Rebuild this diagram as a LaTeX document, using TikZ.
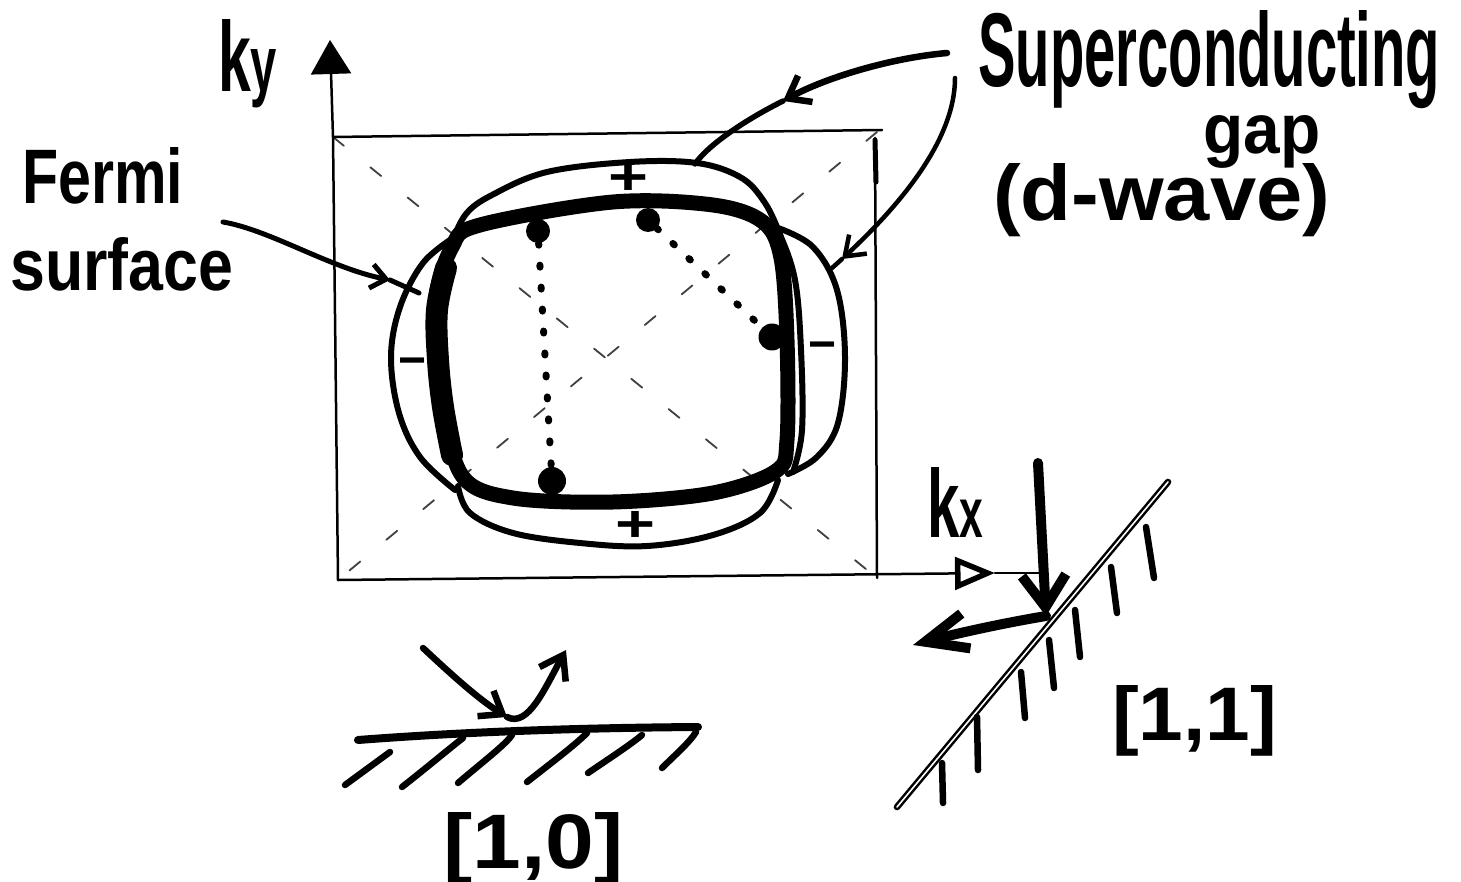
\documentclass[tikz,border=0pt]{standalone}
\usepackage{fontspec}
\setmainfont{Liberation Sans}
\usetikzlibrary{arrows.meta}
\newcommand{\hw}[3]{\resizebox{#1}{#2}{#3}}
\begin{document}
\begin{tikzpicture}[x=1pt,y=-1pt,
  txt/.style={inner sep=0pt, anchor=base west, font=\fontsize{60}{72}\selectfont\bfseries},
  sgn/.style={inner sep=0pt, anchor=center, font=\fontsize{60}{72}\selectfont\bfseries},
  axisline/.style={line width=2.5pt, line cap=round},
  diag/.style={line width=1.8pt, black!75, line cap=round, dash pattern=on 14pt off 34pt},
  fermi/.style={line width=15pt, line join=round},
  gapline/.style={line width=6pt, line cap=round, line join=round},
  dotline/.style={line width=7pt, line cap=round, dash pattern=on 2pt off 20pt},
  kdot/.style={circle, fill=black, inner sep=0pt, minimum size=24pt},
  pointer/.style={line width=5pt, line cap=round},
  ray/.style={line width=10pt, line cap=round},
  hatch/.style={line width=6.5pt, line cap=round},
  wall/.style={line width=8pt, line cap=round},
]
\useasboundingbox (0,0) rectangle (1461,882);
\fill[white] (0,0) rectangle (1461,882);

% ---------- axes and zone ----------
\coordinate (O) at (338,580);
\coordinate (kyMid) at (333,137);
\coordinate (kyTip) at (330,40);
\coordinate (kxTip) at (995,573);
\coordinate (kxEnd) at (1040,573);
\coordinate (BZtr) at (877,132);
\coordinate (BZtopEnd) at (882,130);
\coordinate (BZbr) at (877,578);

\draw[diag] (kyMid) -- (BZbr);
\draw[diag] (BZtr) -- (O);

\draw[axisline] (kyMid) -- (BZtopEnd);
\draw[axisline] (875,138) -- (BZbr);
\draw[line width=5pt, line cap=round] (875,140) -- (876,182);
\draw[axisline, -{Triangle[length=34pt, width=40pt]}] (O) -- (kyMid) -- (kyTip);
\draw[axisline, -{Triangle[open, length=40pt, width=32pt, line width=5.5pt]}] (O) -- (kxTip);
\draw[axisline] (kxTip) -- (kxEnd);

% ---------- Fermi surface ----------
\draw[fermi] plot[smooth cycle, tension=0.55] coordinates {(480,225) (613,202) (713,205) (763,222) (781,258) (787,340) (787,440) (776,471) (713,493) (613,502) (513,498) (463,477) (443,407) (435,307) (452,247)};
\draw[line width=22pt, line cap=round] plot[smooth, tension=0.6] coordinates {(446,268) (437,310) (438,360) (443,407) (452,455)};

% ---------- d-wave gap lobes ----------
\draw[gapline] plot[smooth, tension=0.6] coordinates {(452,242) (466,214) (492,195) (547,172) (630,162) (697,163) (740,177) (763,200) (779,232) (795,280) (801,350) (802,430) (793,472)};
\draw[gapline] plot[smooth, tension=0.6] coordinates {(778,228) (813,247) (837,290) (845,357) (838,423) (817,457) (788,474)};
\draw[gapline] plot[smooth, tension=0.6] coordinates {(458,486) (470,513) (513,533) (580,543) (647,546) (713,535) (760,513) (778,480)};
\draw[gapline] plot[smooth, tension=0.6] coordinates {(453,238) (423,263) (400,307) (391,357) (399,413) (420,457) (455,490)};

% ---------- signs ----------
\node[sgn] (plusTop) at (628,180) {\hw{40pt}{30pt}{+}};
\node[sgn] (plusBot) at (635,526) {\hw{40pt}{30pt}{+}};
\node[sgn] (minusL) at (412,367) {\hw{28pt}{!}{−}};
\node[sgn] (minusR) at (822,351) {\hw{28pt}{!}{−}};

% ---------- scattering points ----------
\node[kdot] (d1) at (538,231) {};
\node[kdot] (d2) at (648,220) {};
\node[kdot, minimum size=27pt] (d3) at (772,337) {};
\node[kdot, minimum size=28pt] (d4) at (552,481) {};
\draw[dotline] (d1) -- (d4);
\draw[dotline] (d2) -- (d3);

% ---------- labels ----------
\node[txt] (ky) at (218,92) {\hw{59pt}{72pt}{k{\fontsize{48}{48}\selectfont y}}};
\node[txt] (kx) at (927,537) {\hw{56pt}{70pt}{k{\fontsize{44}{44}\selectfont x}}};
\node[txt, anchor=north west, align=left, font=\fontsize{60}{87}\selectfont\bfseries] (fermiLbl) at (10,147)
  {\hspace*{12pt}\hw{161pt}{56pt}{Fermi}\\\hw{223pt}{53pt}{surface}};
\node[txt, anchor=north west, align=left, font=\fontsize{60}{67}\selectfont\bfseries] (scLbl) at (978,10)
  {\hw{462pt}{76pt}{Superconducting}\\\hspace*{225pt}\hw{117pt}{38pt}{gap}\\[-6pt]\hspace*{15pt}\hw{337pt}{57pt}{(d-wave)}};
\node[txt] (l10) at (443,868) {\hw{180pt}{56pt}{[1,0]}};
\node[txt] (l11) at (1112,740) {\hw{165pt}{55pt}{[1,1]}};

% ---------- pointers ----------
\coordinate (fa1) at (223,222);
\coordinate (fa2) at (390,280);
\coordinate (fa3) at (419,293);
\draw[pointer, -{Straight Barb[length=15pt, width=24pt]}] (fa1) .. controls (270,230) and (330,268) .. (fa2);
\draw[pointer] (fa2) -- (fa3);

\coordinate (sa1) at (947,53);
\coordinate (sa2) at (783,101);
\coordinate (sa3) at (695,164);
\draw[line width=6.5pt, line cap=round, -{Straight Barb[length=20pt, width=30pt]}] (sa1) .. controls (890,58) and (825,78) .. (sa2);
\draw[line width=5.5pt, line cap=round] (sa2) .. controls (745,120) and (708,145) .. (sa3);

\coordinate (sb1) at (955,78);
\coordinate (sb2) at (842,259);
\coordinate (sb3) at (832,268);
\draw[line width=4.5pt, line cap=round, -{Straight Barb[length=18pt, width=26pt]}] (sb1) .. controls (955,140) and (900,205) .. (sb2);
\draw[line width=4.5pt, line cap=round] (sb2) -- (sb3);

% ---------- [1,0] reflection ----------
\coordinate (w10a) at (358,740);
\coordinate (w10b) at (698,727);
\draw[wall] (w10a) .. controls (450,733) and (560,728) .. (w10b);
\draw[hatch] (345,785) -- (390,752);
\draw[hatch] (402,787) .. controls (430,765) and (450,748) .. (463,738);
\draw[hatch] (458,783) .. controls (485,760) and (505,745) .. (512,735);
\draw[hatch] (527,782) .. controls (555,760) and (575,745) .. (587,733);
\draw[hatch] (588,773) .. controls (610,758) and (630,745) .. (642,735);
\draw[hatch] (662,768) .. controls (675,755) and (690,742) .. (696,732);
\coordinate (in10) at (423,648);
\coordinate (hit10) at (507,717);
\coordinate (out10) at (566,650);
\draw[line width=6.5pt, line cap=round, -{Straight Barb[length=20pt, width=30pt]}] (in10) .. controls (455,678) and (480,700) .. (hit10);
\draw[line width=6.5pt, line cap=round, -{Straight Barb[length=22pt, width=30pt]}] (hit10) .. controls (528,728) and (545,688) .. (out10);

% ---------- [1,1] reflection ----------
\coordinate (w11a) at (897,807);
\coordinate (w11b) at (1168,482);
\draw[line width=2.5pt, double=white, double distance=1.6pt, line cap=round] (w11a) -- (w11b);
\draw[hatch] (942,763) -- (943,803);
\draw[hatch] (977,717) -- (978,770);
\draw[hatch] (1021,672) -- (1025,718);
\draw[hatch] (1049,640) -- (1054,688);
\draw[hatch] (1075,610) -- (1080,657);
\draw[hatch] (1111,567) -- (1117,613);
\draw[hatch] (1146,527) -- (1154,578);
\coordinate (in11) at (1038,463);
\coordinate (hit11) at (1046,616);
\coordinate (out11) at (913,645);
\draw[ray, -{Straight Barb[length=32pt, width=44pt]}] (in11) -- (hit11);
\draw[ray, -{Straight Barb[length=42pt, width=36pt]}] (hit11) .. controls (1010,622) and (962,632) .. (out11);
\end{tikzpicture}
\end{document}
